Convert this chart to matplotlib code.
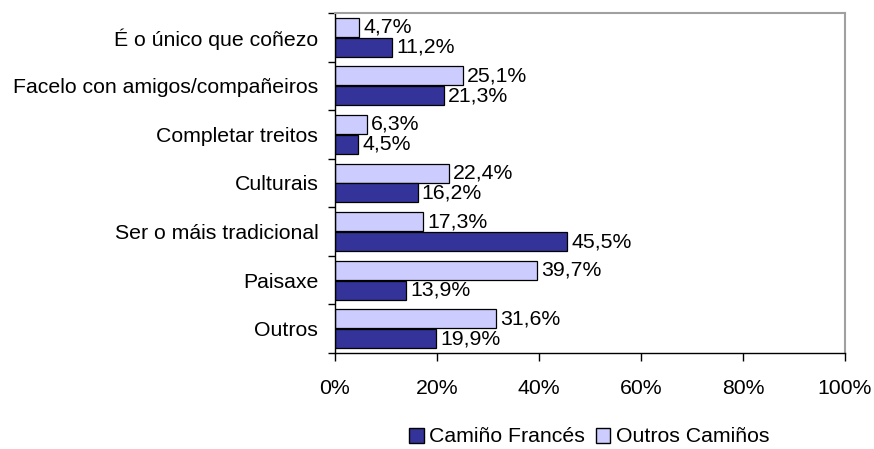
import matplotlib
matplotlib.use('Agg')
import matplotlib.pyplot as plt
from matplotlib.patches import Patch
import numpy as np

plt.rcParams['font.family'] = ['Liberation Sans', 'DejaVu Sans']

categories = ['É o único que coñezo', 'Facelo con amigos/compañeiros', 'Completar treitos',
              'Culturais', 'Ser o máis tradicional', 'Paisaxe', 'Outros']
frances = [11.2, 21.3, 4.5, 16.2, 45.5, 13.9, 19.9]
outros = [4.7, 25.1, 6.3, 22.4, 17.3, 39.7, 31.6]
xticks = [0, 20, 40, 60, 80, 100]

dark = '#333399'
light = '#ccccff'
fs = 15.3

fig = plt.figure(figsize=(8.74, 4.49), dpi=100)
ax = fig.add_axes([335 / 874, 1 - 353 / 449, 510 / 874, 340 / 449])

n = len(categories)
y = np.arange(n)[::-1]
h = 0.39
ax.barh(y + h / 2 + 0.01, outros, height=h, color=light, edgecolor='black', linewidth=0.9)
ax.barh(y - h / 2 - 0.01, frances, height=h, color=dark, edgecolor='black', linewidth=0.9)

for yi, v in zip(y, outros):
    ax.text(v + 0.8, yi + h / 2 + 0.01, f'{v:.1f}%'.replace('.', ','), va='center', ha='left', fontsize=fs)
for yi, v in zip(y, frances):
    ax.text(v + 0.8, yi - h / 2 - 0.01, f'{v:.1f}%'.replace('.', ','), va='center', ha='left', fontsize=fs)

ax.set_xlim(0, 100)
ax.set_ylim(-0.5, n - 0.5)
ax.set_xticks(xticks)
ax.set_xticklabels([f'{t}%' for t in xticks], fontsize=fs)
ax.tick_params(axis='x', direction='out', length=6, width=1, pad=13)

ax.set_yticks(y)
ax.set_yticklabels(categories, fontsize=fs)
ax.tick_params(axis='y', which='major', length=0, pad=12)
ax.set_yticks(np.arange(-0.5, n, 1), minor=True)
ax.tick_params(axis='y', which='minor', direction='out', length=5, width=1)

for s in ['top', 'right']:
    ax.spines[s].set_color('#a0a0a0')
    ax.spines[s].set_linewidth(1.5)
for s in ['left', 'bottom']:
    ax.spines[s].set_color('black')
    ax.spines[s].set_linewidth(1)

handles = [Patch(facecolor=dark, edgecolor='black', label='Camiño Francés'),
           Patch(facecolor=light, edgecolor='black', label='Outros Camiños')]
fig.legend(handles=handles, loc='center', bbox_to_anchor=(589 / 874, 1 - 437 / 449), ncol=2,
           frameon=False, fontsize=fs, handlelength=0.7, handleheight=0.7, handletextpad=0.25,
           columnspacing=0.5, borderpad=0)

fig.savefig('out.png', dpi=100)
